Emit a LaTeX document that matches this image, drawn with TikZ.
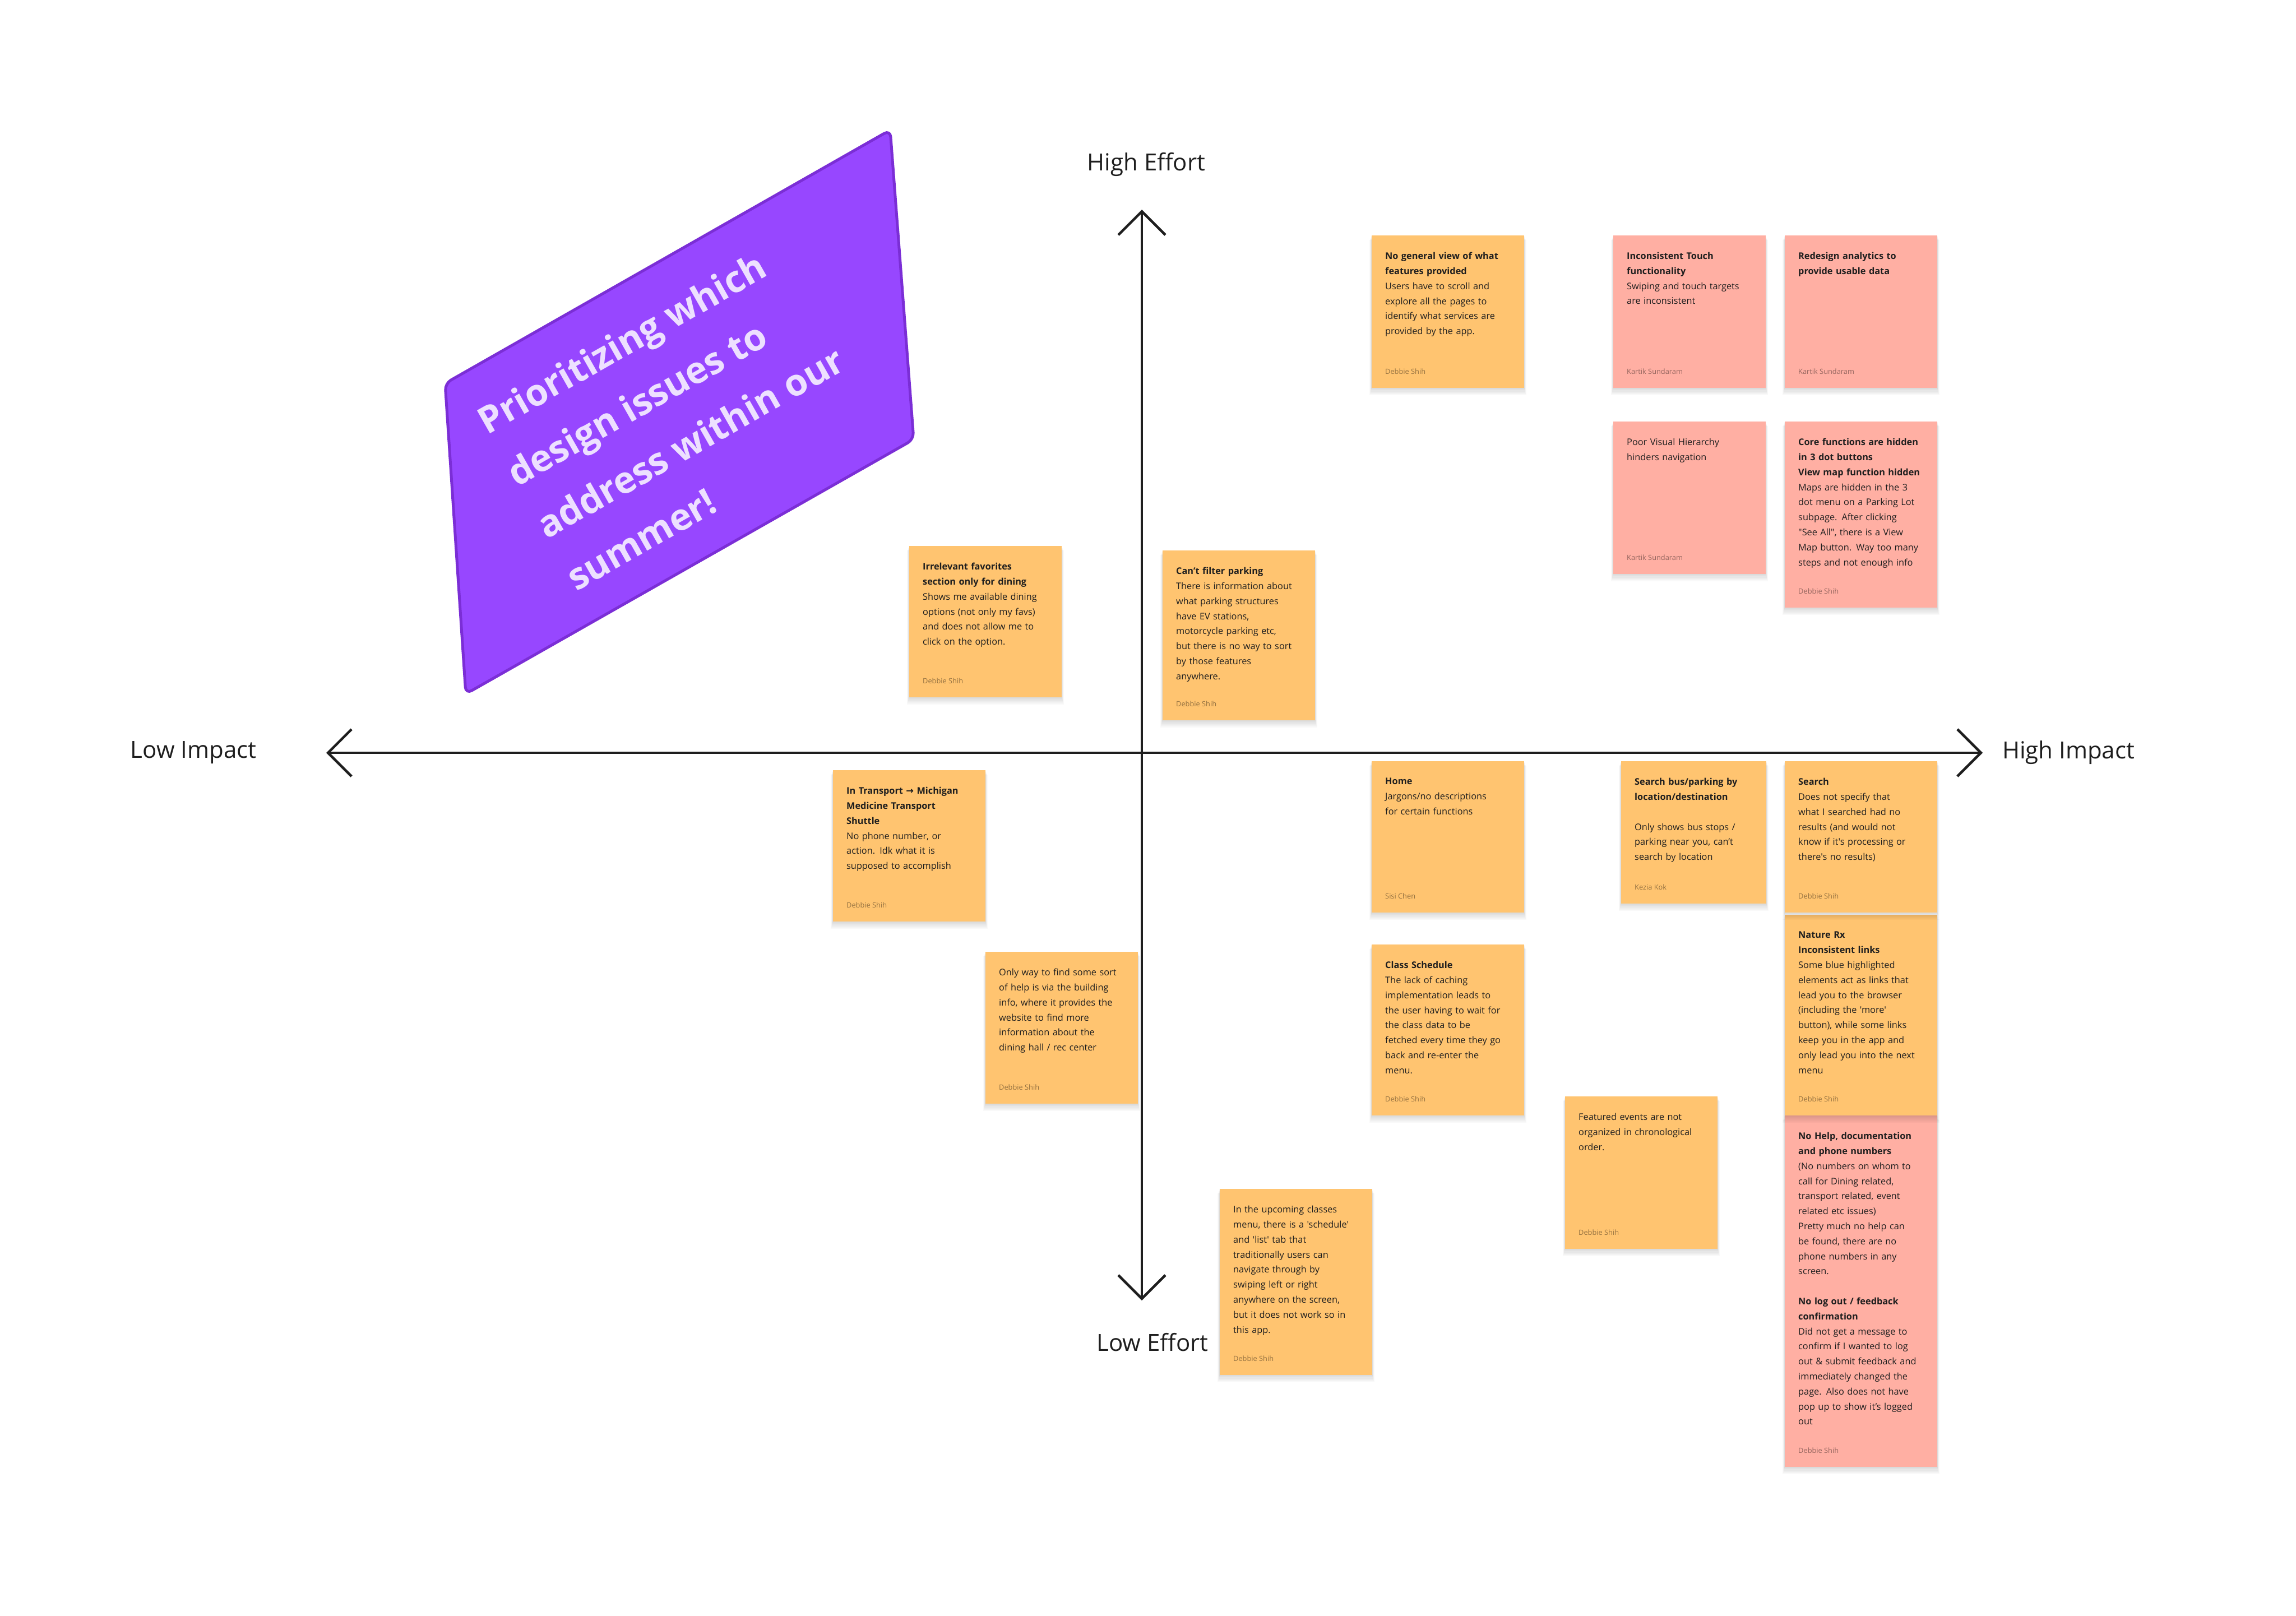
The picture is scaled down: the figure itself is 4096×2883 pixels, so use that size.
\documentclass[tikz,border=0pt]{standalone}
\usepackage{fontspec}
\IfFontExistsTF{Noto Sans Bold}{%
  \setmainfont{Noto Sans}[BoldFont={Noto Sans Bold}, Ligatures=TeXOff]%
}{%
  \IfFontExistsTF{Open Sans Bold}{%
    \setmainfont{Open Sans}[BoldFont={Open Sans Bold}, Ligatures=TeXOff]%
  }{%
    \IfFontExistsTF{Fira Sans Bold}{%
      \setmainfont{Fira Sans}[BoldFont={Fira Sans Bold}, Ligatures=TeXOff]%
    }{%
      \setmainfont{Liberation Sans}[Ligatures=TeXOff]%
    }%
  }%
}
\newfontfamily\arrowfont{DejaVu Sans}
\usetikzlibrary{arrows.meta}
\definecolor{stickyorange}{HTML}{FFC470}
\definecolor{stickypink}{HTML}{FFAFA3}
\definecolor{ink}{HTML}{1E1E1E}
\definecolor{cardpurple}{HTML}{9747FF}
\definecolor{cardedge}{HTML}{7B2ED6}
\definecolor{cardtext}{HTML}{EDE0FF}
\setlength\parindent{0pt}
\tikzset{
  notebox/.style={draw=none, inner sep=0pt, outer sep=0pt, rectangle},
  notetext/.style={inner sep=0pt, align=left, text width=270pt, text=ink,
     font=\fontsize{16.3}{26.8}\selectfont},
  noteauthor/.style={inner sep=0pt, text=black, text opacity=0.42,
     font=\fontsize{12.8}{15}\selectfont},
  axisline/.style={draw=ink, line width=4.5pt,
     {Straight Barb[length=42pt,width=84pt]}-{Straight Barb[length=42pt,width=84pt]}},
  axislabel/.style={text=ink, inner sep=0pt, font=\fontsize{42}{50}\selectfont},
  cardshape/.style={fill=cardpurple, draw=cardedge, line width=5pt, rounded corners=12pt, line join=round},
  cardtitle/.style={text=cardtext, inner sep=0pt, align=left,
     font=\fontsize{66}{107}\selectfont\bfseries}
}
% #1 name, #2 x, #3 y, #4 w, #5 h, #6 fill, #7 text, #8 author
\newcommand\stickynote[8]{%
  \foreach \k in {1,...,6}{%
    \fill[black, opacity=0.022] ({#2-\k*0.6},{#3+\k*1.4}) rectangle ({#2+#4+\k*0.6},{#3+#5+\k*2.2});
  }%
  \node[notebox, fill=#6, minimum width=#4pt, minimum height=#5pt, anchor=north west] (#1) at (#2,#3) {};
  \node[notetext, anchor=north west] (#1-t) at ([xshift=24pt,yshift=-30pt]#1.north west) {#7};
  \node[noteauthor, anchor=base west] (#1-a) at ([xshift=24pt,yshift=25pt]#1.south west) {#8};
}
\begin{document}
\begin{tikzpicture}[x=1pt,y=-1pt]
\fill[white] (0,0) rectangle (4096,2883);
\useasboundingbox (0,0) rectangle (4096,2883);

% axes
\coordinate (axL) at (582,1343);
\coordinate (axR) at (3537,1343);
\coordinate (axT) at (2037,374);
\coordinate (axB) at (2037,2320);
\draw[axisline] (axL) -- (axR);
\draw[axisline] (axT) -- (axB);

\node[axislabel] (lowimpact) at (345,1343) {Low Impact};
\node[axislabel] (highimpact) at (3690,1343) {High Impact};
\node[axislabel] (higheffort) at (2045,293) {High Effort};
\node[axislabel] (loweffort) at (2056,2395) {Low Effort};

% purple card
\draw[cardshape] (794,684) -- (1588,232) -- (1630,784) -- (831,1238) -- cycle;
\node[cardtitle, rotate=29.6] (cardtext) at (1205,742)
  {Prioritizing which\\design issues to\\address within our\\summer!};

% sticky notes
\stickynote{nogeneral}{2447}{420}{272}{272}{stickyorange}
 {\textbf{No general view of what\\features provided}\\Users have to scroll and\\explore all the pages to\\identify what services are\\provided by the app.}
 {Debbie Shih}
\stickynote{touch}{2878}{420}{272}{272}{stickypink}
 {\textbf{Inconsistent Touch\\functionality}\\Swiping and touch targets\\are inconsistent}
 {Kartik Sundaram}
\stickynote{analytics}{3184}{420}{272}{272}{stickypink}
 {\textbf{Redesign analytics to\\provide usable data}}
 {Kartik Sundaram}
\stickynote{hierarchy}{2878}{752}{272}{272}{stickypink}
 {Poor Visual Hierarchy\\hinders navigation}
 {Kartik Sundaram}
\stickynote{core}{3184}{752}{272}{332}{stickypink}
 {\textbf{Core functions are hidden\\in 3 dot buttons\\View map function hidden}\\Maps are hidden in the 3\\dot menu on a Parking Lot\\subpage. After clicking\\"See All", there is a View\\Map button. Way too many\\steps and not enough info}
 {Debbie Shih}
\stickynote{favorites}{1622}{974}{272}{270}{stickyorange}
 {\textbf{Irrelevant favorites\\section only for dining}\\Shows me available dining\\options (not only my favs)\\and does not allow me to\\click on the option.}
 {Debbie Shih}
\stickynote{filter}{2074}{982}{272}{303}{stickyorange}
 {\textbf{Can’t filter parking}\\There is information about\\what parking structures\\have EV stations,\\motorcycle parking etc,\\but there is no way to sort\\by those features\\anywhere.}
 {Debbie Shih}
\stickynote{transport}{1486}{1374}{272}{270}{stickyorange}
 {\textbf{In Transport {\arrowfont\bfseries →} Michigan\\Medicine Transport\\Shuttle}\\No phone number, or\\action. Idk what it is\\supposed to accomplish}
 {Debbie Shih}
\stickynote{home}{2447}{1358}{272}{270}{stickyorange}
 {\textbf{Home}\\Jargons/no descriptions\\for certain functions}
 {Sisi Chen}
\stickynote{searchbus}{2892}{1358}{259}{254}{stickyorange}
 {\textbf{Search bus/parking by\\location/destination}\\[26.8pt]Only shows bus stops /\\parking near you, can’t\\search by location}
 {Kezia Kok}
\stickynote{nohelp}{3184}{1990}{272}{627}{stickypink}
 {\textbf{No Help, documentation\\and phone numbers}\\(No numbers on whom to\\call for Dining related,\\transport related, event\\related etc issues)\\Pretty much no help can\\be found, there are no\\phone numbers in any\\screen.\\[26.8pt]\textbf{No log out / feedback\\confirmation}\\Did not get a message to\\confirm if I wanted to log\\out \& submit feedback and\\immediately changed the\\page. Also does not have\\pop up to show it’s logged\\out}
 {Debbie Shih}
\stickynote{naturerx}{3184}{1632}{272}{358}{stickyorange}
 {\textbf{Nature Rx\\Inconsistent links}\\Some blue highlighted\\elements act as links that\\lead you to the browser\\(including the 'more'\\button), while some links\\keep you in the app and\\only lead you into the next\\menu}
 {Debbie Shih}
\stickynote{search}{3184}{1358}{272}{270}{stickyorange}
 {\textbf{Search}\\Does not specify that\\what I searched had no\\results (and would not\\know if it's processing or\\there's no results)}
 {Debbie Shih}
\stickynote{onlyway}{1758}{1698}{272}{271}{stickyorange}
 {Only way to find some sort\\of help is via the building\\info, where it provides the\\website to find more\\information about the\\dining hall / rec center}
 {Debbie Shih}
\stickynote{classsched}{2447}{1685}{272}{305}{stickyorange}
 {\textbf{Class Schedule}\\The lack of caching\\implementation leads to\\the user having to wait for\\the class data to be\\fetched every time they go\\back and re-enter the\\menu.}
 {Debbie Shih}
\stickynote{featured}{2792}{1956}{272}{272}{stickyorange}
 {Featured events are not\\organized in chronological\\order.}
 {Debbie Shih}
\stickynote{upcoming}{2176}{2121}{272}{332}{stickyorange}
 {In the upcoming classes\\menu, there is a 'schedule'\\and 'list' tab that\\traditionally users can\\navigate through by\\swiping left or right\\anywhere on the screen,\\but it does not work so in\\this app.}
 {Debbie Shih}
\end{tikzpicture}
\end{document}
